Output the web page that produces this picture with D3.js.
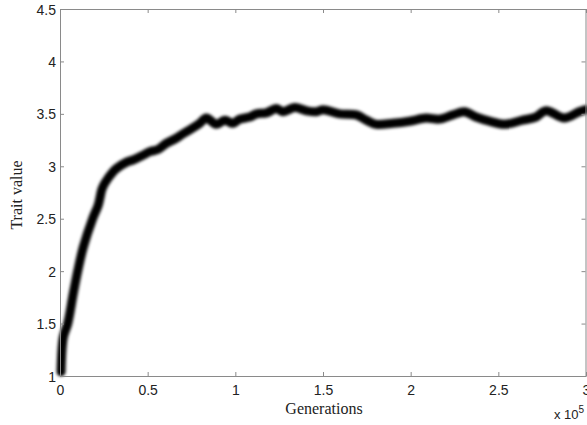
<!DOCTYPE html>
<html>
<head>
<meta charset="utf-8">
<script src="https://cdn.jsdelivr.net/npm/d3@7"></script>
<style>
  body { margin: 0; background: #fff; }
  svg { display: block; }
</style>
</head>
<body>
<div id="chart"></div>
<script>
// generations (raw count) and mean trait value
const generations = [600, 1900, 4400, 7600, 10100, 13300, 18600, 21800, 23900, 25600,
  30400, 32300, 38000, 41600, 46700, 51300, 55800, 60800, 65500, 70200,
  75200, 79700, 83500, 89200, 94000, 98700, 102500, 108200, 112000, 117700,
  123400, 127200, 133800, 140500, 146200, 149900, 159500, 169000, 174700, 180400,
  189800, 199300, 208800, 216400, 224000, 230600, 237300, 244900, 253400, 263800,
  271500, 277200, 287600, 296100, 299900];
const traitValues = [1.04, 1.37, 1.5, 1.79, 2.0, 2.23, 2.5, 2.63, 2.78, 2.84,
  2.95, 2.98, 3.04, 3.06, 3.1, 3.14, 3.16, 3.22, 3.26, 3.31,
  3.36, 3.41, 3.46, 3.4, 3.44, 3.41, 3.45, 3.47, 3.5, 3.51,
  3.55, 3.52, 3.56, 3.53, 3.52, 3.54, 3.5, 3.49, 3.44, 3.4,
  3.41, 3.43, 3.46, 3.45, 3.49, 3.52, 3.47, 3.43, 3.4, 3.44,
  3.47, 3.53, 3.46, 3.52, 3.54];

const xTicks = [0, 50000, 100000, 150000, 200000, 250000, 300000];
const yTicks = [1, 1.5, 2, 2.5, 3, 3.5, 4, 4.5];

const width = 587;
const height = 425;
const margin = { top: 9, right: 1, bottom: 49, left: 60 };

const svg = d3.select("#chart")
  .append("svg")
  .attr("width", width)
  .attr("height", height);

// soft edges like the original bitmap
const defs = svg.append("defs");
defs.append("filter")
  .attr("id", "soft")
  .attr("x", "-10%").attr("y", "-10%")
  .attr("width", "120%").attr("height", "120%")
  .append("feGaussianBlur")
  .attr("stdDeviation", 1.5);

const x = d3.scaleLinear()
  .domain([0, 300000])
  .range([margin.left, width - margin.right]);

const y = d3.scaleLinear()
  .domain([1, 4.5])
  .range([height - margin.bottom, margin.top]);

const axisColor = "#8a8a8a";
const tickFont = "Liberation Sans, Arial, Helvetica, sans-serif";
const labelFont = "Liberation Serif, Times New Roman, serif";

// data line
const points = generations.map((g, i) => [g, traitValues[i]]);
const line = d3.line()
  .x(d => x(d[0]))
  .y(d => y(d[1]))
  .curve(d3.curveCatmullRom.alpha(0.5));

svg.append("path")
  .datum(points)
  .attr("d", line)
  .attr("fill", "none")
  .attr("stroke", "#000")
  .attr("stroke-width", 9)
  .attr("stroke-linejoin", "round")
  .attr("stroke-linecap", "round")
  .attr("filter", "url(#soft)");

// box axes with inward ticks
const bottomAxis = svg.append("g")
  .attr("transform", `translate(0,${y(1)})`)
  .call(d3.axisBottom(x).tickValues(xTicks).tickSizeInner(-4).tickSizeOuter(0)
    .tickFormat(d => d3.format("~g")(d / 100000)));

const leftAxis = svg.append("g")
  .attr("transform", `translate(${x(0)},0)`)
  .call(d3.axisLeft(y).tickValues(yTicks).tickSizeInner(-4).tickSizeOuter(0)
    .tickFormat(d3.format("~g")));

const topAxis = svg.append("g")
  .attr("transform", `translate(0,${y(4.5)})`)
  .call(d3.axisTop(x).tickValues(xTicks).tickSizeInner(-4).tickSizeOuter(0)
    .tickFormat(""));

const rightAxis = svg.append("g")
  .attr("transform", `translate(${x(300000) - 0.5},0)`)
  .call(d3.axisRight(y).tickValues(yTicks).tickSizeInner(-4).tickSizeOuter(0)
    .tickFormat(""));

[bottomAxis, leftAxis, topAxis, rightAxis].forEach(g => {
  g.select(".domain").attr("stroke", axisColor);
  g.selectAll(".tick line").attr("stroke", axisColor);
  g.selectAll("text")
    .attr("fill", "#222")
    .style("font-family", tickFont)
    .style("font-size", "14px");
});

bottomAxis.selectAll("text").attr("y", 9);
leftAxis.selectAll("text").attr("x", -4).attr("dy", "0.36em");

// axis titles
svg.append("text")
  .attr("x", 324)
  .attr("y", 414)
  .attr("text-anchor", "middle")
  .style("font-family", labelFont)
  .style("font-size", "16px")
  .attr("fill", "#222")
  .text("Generations");

svg.append("text")
  .attr("transform", "rotate(-90)")
  .attr("x", -195)
  .attr("y", 22)
  .attr("text-anchor", "middle")
  .style("font-family", labelFont)
  .style("font-size", "16px")
  .attr("fill", "#222")
  .text("Trait value");

// exponent note
const expo = svg.append("text")
  .attr("x", 554)
  .attr("y", 419)
  .style("font-family", tickFont)
  .style("font-size", "13px")
  .attr("fill", "#222");
expo.append("tspan").text("x 10");
expo.append("tspan")
  .attr("dy", -6)
  .style("font-size", "10px")
  .text("5");
</script>
</body>
</html>
